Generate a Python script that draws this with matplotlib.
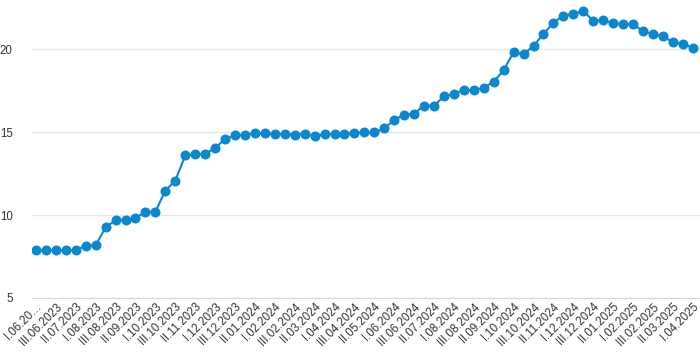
import matplotlib.pyplot as plt

plt.rcParams['font.family'] = ['Liberation Sans', 'DejaVu Sans']

# dekad values, I.06.2023 .. I.04.2025
values = [7.88, 7.88, 7.88, 7.88, 7.88, 8.16, 8.18, 9.27, 9.69, 9.73,
          9.81, 10.21, 10.21, 11.48, 12.08, 13.60, 13.69, 13.69, 14.05, 14.59,
          14.81, 14.85, 14.93, 14.93, 14.87, 14.91, 14.85, 14.91, 14.75, 14.89,
          14.89, 14.89, 14.97, 14.99, 14.99, 15.23, 15.75, 16.05, 16.13, 16.61,
          16.61, 17.16, 17.32, 17.54, 17.54, 17.70, 18.04, 18.75, 19.83, 19.71,
          20.21, 20.93, 21.61, 22.04, 22.14, 22.32, 21.73, 21.76, 21.58, 21.52,
          21.52, 21.10, 20.92, 20.80, 20.43, 20.35, 20.09]

tick_labels = ['I.06.20…', 'III.06.2023', 'II.07.2023', 'I.08.2023', 'III.08.2023',
               'II.09.2023', 'I.10.2023', 'III.10.2023', 'II.11.2023', 'I.12.2023',
               'III.12.2023', 'II.01.2024', 'I.02.2024', 'III.02.2024', 'II.03.2024',
               'I.04.2024', 'III.04.2024', 'II.05.2024', 'I.06.2024', 'III.06.2024',
               'II.07.2024', 'I.08.2024', 'III.08.2024', 'II.09.2024', 'I.10.2024',
               'III.10.2024', 'II.11.2024', 'I.12.2024', 'III.12.2024', 'II.01.2025',
               'I.02.2025', 'III.02.2025', 'II.03.2025', 'I.04.2025']
y_ticks = [5, 10, 15, 20]

fig = plt.figure(figsize=(7, 3.55), dpi=100)
ax = fig.add_axes([32 / 700, 57 / 355, 668 / 700, 295 / 355])

x = list(range(len(values)))
ax.plot(x, values, color='#0a87cf', lw=1.5, marker='o', ms=6.2, mec='#0a87cf', zorder=3)

ax.set_xlim(-0.4, 66.73)
ax.set_ylim(5, 22.8)
ax.set_yticks(y_ticks)
ax.set_xticks(x[::2])
ax.set_xticklabels(tick_labels, rotation=45, ha='right', rotation_mode='anchor',
                   fontsize=8.3, color='#333333')
ax.tick_params(axis='x', length=0, pad=2)
ax.tick_params(axis='y', length=0, pad=14, labelsize=8.3, labelcolor='#333333')
ax.grid(axis='y', color='#e6e6e6', lw=1)
ax.set_axisbelow(True)
for s in ['top', 'right', 'left']:
    ax.spines[s].set_visible(False)
ax.spines['bottom'].set_color('#ccd6eb')

fig.savefig('out.png', dpi=100)
